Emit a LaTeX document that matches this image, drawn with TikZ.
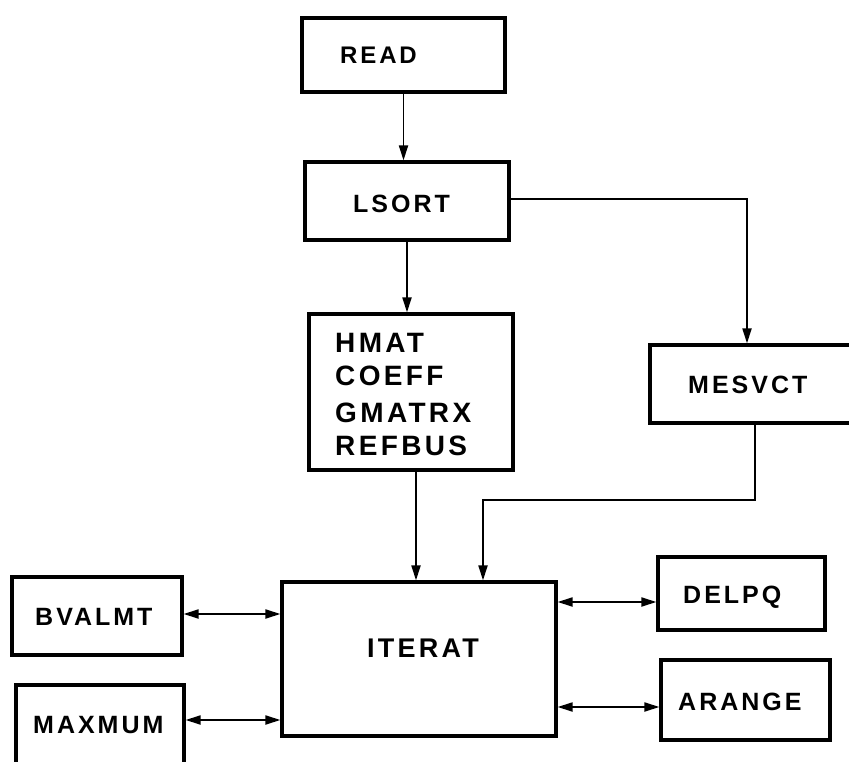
\documentclass[tikz,border=0pt]{standalone}
\usepackage{fontspec}
\setmainfont[LetterSpace=12]{Liberation Sans}
\usetikzlibrary{arrows.meta}
\begin{document}
\begin{tikzpicture}[x=1pt,y=-1pt,
  box/.style={draw, line width=3.2pt, inner sep=0pt, rectangle},
  lbl/.style={inner sep=0pt, anchor=base west, font=\bfseries\fontsize{25}{30}\selectfont},
  tip/.style={},
  conn/.style={line width=1.9pt, -{Triangle[length=15pt,width=9pt]}},
  dbl/.style={line width=1.9pt, {Triangle[length=15pt,width=9pt]}-{Triangle[length=15pt,width=9pt]}}
]
\useasboundingbox (0,0) rectangle (849,762);
\clip (0,0) rectangle (849,762);

% boxes
\node[box, minimum width=203pt, minimum height=74pt]  (read)   at (403.5,55) {};
\node[box, minimum width=204pt, minimum height=78pt]  (lsort)  at (407,201) {};
\node[box, minimum width=204pt, minimum height=156pt] (hmat)   at (411,392) {};
\node[box, minimum width=210pt, minimum height=78pt]  (mesv)   at (755,384) {};
\node[box, minimum width=274pt, minimum height=154pt] (iter)   at (419,659) {};
\node[box, minimum width=170pt, minimum height=78pt]  (bval)   at (97,616) {};
\node[box, minimum width=168pt, minimum height=90pt]  (maxm)   at (100,730) {};
\node[box, minimum width=167pt, minimum height=73pt]  (delpq)  at (741.5,593.5) {};
\node[box, minimum width=169pt, minimum height=80pt]  (arange) at (745.5,700) {};

% labels
\node[lbl, font=\bfseries\fontsize{24}{28}\selectfont] (readt) at (340,64) {READ};
\node[lbl] (lsortt) at (353,213) {LSORT};
\node[lbl, font=\bfseries\fontsize{28}{32}\selectfont] (hmt1) at (335,352) {HMAT};
\node[lbl, font=\bfseries\fontsize{28}{32}\selectfont] (hmt2) at (335,385) {COEFF};
\node[lbl, font=\bfseries\fontsize{28}{32}\selectfont] (hmt3) at (335,422) {GMATRX};
\node[lbl, font=\bfseries\fontsize{28}{32}\selectfont] (hmt4) at (335,455) {REFBUS};
\node[lbl] (mesvt) at (688,393) {MESVCT};
\node[lbl, font=\bfseries\fontsize{27}{32}\selectfont] (itert) at (367,657) {ITERAT};
\node[lbl] (bvalt) at (35,625) {BVALMT};
\node[lbl] (maxmt) at (33,733) {MAXMUM};
\node[lbl] (delpqt) at (683,603) {DELPQ};
\node[lbl] (arant) at (678,710) {ARANGE};

% connectors
\draw[conn] (read.south) -- (read.south |- lsort.north);
\draw[conn] (lsort.south) -- (lsort.south |- hmat.north);
\coordinate (hm) at ([xshift=5pt]hmat.south);
\draw[conn] (hm) -- (hm |- iter.north);
\coordinate (ms) at ([xshift=-8pt]mesv.north);
\coordinate (le) at ([yshift=2pt]lsort.east);
\draw[conn] (le) -| (ms);
\coordinate (it2) at ([xshift=64pt]iter.north);
\draw[conn] (mesv.south) -- ++(0,75) -| (it2);
\coordinate (ba) at ([yshift=2pt]bval.east);
\draw[dbl] (ba) -- (ba -| iter.west);
\coordinate (ma) at ([yshift=10pt]maxm.east);
\draw[dbl] (ma) -- (ma -| iter.west);
\coordinate (da) at ([yshift=-8.5pt]delpq.west);
\draw[dbl] (iter.east |- da) -- (da);
\coordinate (aa) at ([yshift=-7pt]arange.west);
\draw[dbl] (iter.east |- aa) -- (aa);
\end{tikzpicture}
\end{document}
